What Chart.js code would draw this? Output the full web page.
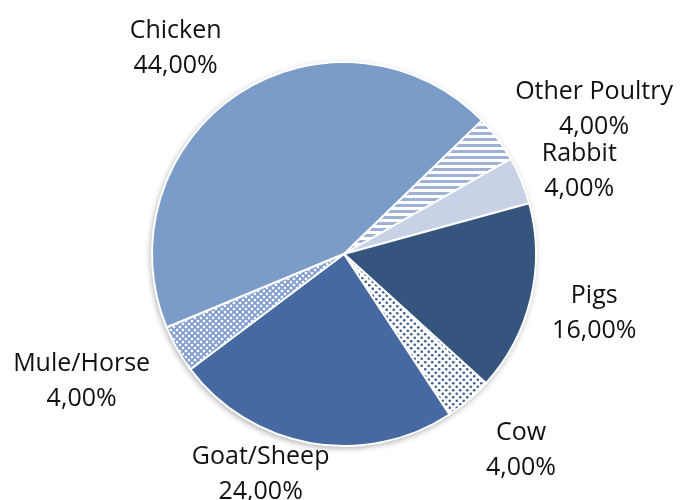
<!DOCTYPE html>
<html>
<head>
<meta charset="utf-8">
<script src="https://cdn.jsdelivr.net/npm/chart.js@4"></script>
<style>
  html, body { margin: 0; padding: 0; background: #fff; }
  #wrap { width: 680px; height: 500px; }
</style>
</head>
<body>
<div id="wrap"><canvas id="pieChart" width="680" height="500"></canvas></div>
<script>
// data
const categories = ['Chicken', 'Other Poultry', 'Rabbit', 'Pigs', 'Cow', 'Goat/Sheep', 'Mule/Horse'];
const shares = [44, 4, 4, 16, 4, 24, 4];
const percentLabels = ['44,00%', '4,00%', '4,00%', '16,00%', '4,00%', '24,00%', '4,00%'];

// small fill patterns like the office chart
function makePattern(size, draw) {
    const c = document.createElement('canvas');
    c.width = size; c.height = size;
    const x = c.getContext('2d');
    draw(x, size);
    return x.createPattern(c, 'repeat');
}

const stripePattern = makePattern(6, (x, s) => {
    x.fillStyle = '#ffffff'; x.fillRect(0, 0, s, s);
    x.fillStyle = '#9fb1d4'; x.fillRect(0, 0, s, 3);
});
const dotPattern = makePattern(7, (x, s) => {
    x.fillStyle = '#ffffff'; x.fillRect(0, 0, s, s);
    x.fillStyle = '#3d5d90';
    x.beginPath(); x.arc(1.75, 1.75, 1.3, 0, Math.PI * 2); x.fill();
    x.beginPath(); x.arc(5.25, 5.25, 1.3, 0, Math.PI * 2); x.fill();
});
const latticePattern = makePattern(6, (x, s) => {
    x.fillStyle = '#ffffff'; x.fillRect(0, 0, s, s);
    x.strokeStyle = '#7e9cd1'; x.lineWidth = 1.8;
    x.beginPath();
    x.moveTo(-1, -1); x.lineTo(s + 1, s + 1);
    x.moveTo(s + 1, -1); x.lineTo(-1, s + 1);
    x.stroke();
});

const sliceColors = ['#7b9bc9', stripePattern, '#c8d2e6', '#35557f', dotPattern, '#4569a0', latticePattern];

// テキストラベル（円の外側）
const labelFont = '25px "Open Sans"';
const lineH = 35;
// 手動の微調整（px）
const labelNudge = {
    'Chicken': [-5, -4],
    'Rabbit': [0, 10],
    'Pigs': [0, 3],
    'Cow': [3, 13],
    'Goat/Sheep': [-17, -17],
    'Mule/Horse': [-8, 8]
};
const outsideLabels = {
    id: 'outsideLabels',
    afterDatasetsDraw(chart) {
        const ctx = chart.ctx;
        const meta = chart.getDatasetMeta(0);
        ctx.save();
        ctx.font = labelFont;
        ctx.fillStyle = '#111111';
        ctx.textAlign = 'center';
        ctx.textBaseline = 'middle';
        meta.data.forEach((arc, i) => {
            const p = arc.getProps(['x', 'y', 'startAngle', 'endAngle', 'outerRadius'], true);
            const mid = (p.startAngle + p.endAngle) / 2;
            const c = Math.cos(mid), s = Math.sin(mid);
            const lines = [categories[i], percentLabels[i]];
            const w = Math.max(...lines.map(t => ctx.measureText(t).width));
            const h = lineH * lines.length - 16;
            const g = 22;
            const fx = Math.max(-1, Math.min(1, c * 2.5));
            const nudge = labelNudge[categories[i]] || [0, 0];
            const cx = p.x + c * p.outerRadius + fx * w / 2 + c * g + nudge[0];
            const cy = p.y + s * p.outerRadius + s * h / 2 + s * g + nudge[1];
            lines.forEach((t, k) => {
                ctx.fillText(t, cx, cy + (k - (lines.length - 1) / 2) * lineH);
            });
        });
        ctx.restore();
    }
};

// soft shadow under the pie
const pieShadow = {
    id: 'pieShadow',
    beforeDatasetsDraw(chart) {
        const arc = chart.getDatasetMeta(0).data[0];
        if (!arc) return;
        const ctx = chart.ctx;
        ctx.save();
        ctx.shadowColor = 'rgba(0,0,0,0.35)';
        ctx.shadowBlur = 6;
        ctx.shadowOffsetX = -1;
        ctx.shadowOffsetY = 2;
        ctx.fillStyle = '#ffffff';
        ctx.beginPath();
        ctx.arc(arc.x, arc.y, arc.outerRadius, 0, Math.PI * 2);
        ctx.fill();
        ctx.restore();
    }
};

const pieCtx = document.getElementById('pieChart').getContext('2d');
const pieChart = new Chart(pieCtx, {
    type: 'pie',
    data: {
        labels: categories,
        datasets: [{
            data: shares,
            backgroundColor: sliceColors,
            borderColor: '#ffffff',
            borderWidth: 2
        }]
    },
    options: {
        responsive: false,
        animation: false,
        rotation: 247.5,
        layout: { padding: { left: 151, right: 143, top: 61, bottom: 53 } },
        plugins: {
            legend: { display: false },
            tooltip: { enabled: false }
        }
    },
    plugins: [pieShadow, outsideLabels]
});
</script>
</body>
</html>
